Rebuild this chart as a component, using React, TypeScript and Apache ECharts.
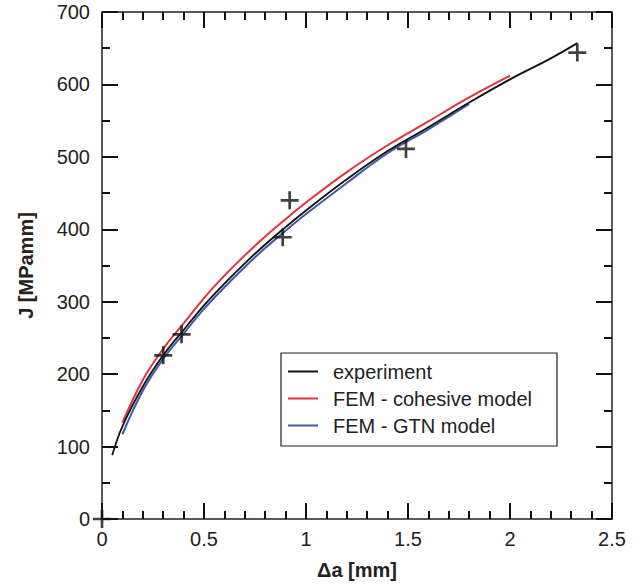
import React, { useEffect, useRef } from 'react';
import * as echarts from 'echarts';

const FONT = '"Liberation Sans", Arial, Helvetica, sans-serif';

// Δa [mm] / J [MPamm]
const experimentA = [0.05, 0.1, 0.2, 0.3, 0.4, 0.5, 0.6, 0.7, 0.8, 0.9, 1.0, 1.2, 1.4, 1.6, 1.8, 2.0, 2.2, 2.33];
const experimentJ = [88, 128, 183, 226, 261, 295, 325, 353, 379, 403, 426, 469, 508, 541, 575, 607, 636, 657];

const cohesiveA = [0.1, 0.2, 0.3, 0.4, 0.5, 0.6, 0.7, 0.8, 0.9, 1.0, 1.2, 1.4, 1.6, 1.8, 2.0];
const cohesiveJ = [133, 192, 235, 270, 305, 336, 364, 390, 414, 437, 479, 516, 549, 582, 612];

const gtnA = [0.1, 0.2, 0.3, 0.4, 0.5, 0.6, 0.7, 0.8, 0.9, 1.0, 1.2, 1.4, 1.6, 1.8];
const gtnJ = [117, 177, 221, 256, 290, 320, 348, 374, 398, 421, 464, 505, 538, 573];

const pointA = [0, 0.3, 0.39, 0.886, 0.92, 1.49, 2.33];
const pointJ = [0, 226, 255, 389, 440, 511, 644];

const seriesNames = ['experiment', 'FEM - cohesive model', 'FEM - GTN model'];

const zip = (xs: number[], ys: number[]) => xs.map((x, i) => [x, ys[i]]);

const CROSS =
  'path://M-1,-0.15 L-0.15,-0.15 L-0.15,-1 L0.15,-1 L0.15,-0.15 L1,-0.15 L1,0.15 L0.15,0.15 L0.15,1 L-0.15,1 L-0.15,0.15 L-1,0.15 Z';

const axisColor = '#222';
const tickLine = { color: '#111', width: 2 };

function makeX(position: 'bottom' | 'top', labels: boolean) {
  return {
    type: 'value',
    position,
    min: 0,
    max: 2.5,
    interval: 0.5,
    axisLine: { show: true, onZero: false, lineStyle: { color: axisColor, width: 1.5 } },
    axisTick: { show: true, inside: true, length: 16, lineStyle: tickLine },
    minorTick: { show: true, splitNumber: 5, length: 8, lineStyle: tickLine },
    splitLine: { show: false },
    minorSplitLine: { show: false },
    axisLabel: { show: labels, fontSize: 20, color: '#222', fontFamily: FONT, margin: 10 },
    name: labels ? 'Δa [mm]' : '',
    nameLocation: 'middle',
    nameGap: 41,
    nameTextStyle: { fontSize: 20, fontWeight: 'bold', color: '#222', fontFamily: FONT },
  };
}

function makeY(position: 'left' | 'right', labels: boolean) {
  return {
    type: 'value',
    position,
    min: 0,
    max: 700,
    interval: 100,
    axisLine: { show: true, onZero: false, lineStyle: { color: axisColor, width: 1.5 } },
    axisTick: { show: true, inside: true, length: 16, lineStyle: tickLine },
    minorTick: { show: true, splitNumber: 2, length: 8, lineStyle: tickLine },
    splitLine: { show: false },
    minorSplitLine: { show: false },
    axisLabel: { show: labels, fontSize: 20, color: '#222', fontFamily: FONT, margin: 12 },
    name: labels ? 'J [MPamm]' : '',
    nameLocation: 'middle',
    nameGap: 66,
    nameTextStyle: { fontSize: 20, fontWeight: 'bold', color: '#222', fontFamily: FONT },
  };
}

export default function App() {
  const ref = useRef<HTMLDivElement>(null);

  useEffect(() => {
    document.body.style.margin = '0';
    if (!ref.current) return;
    const chart = echarts.init(ref.current, null, { renderer: 'svg' });
    chart.setOption({
      animation: false,
      backgroundColor: '#fff',
      textStyle: { fontFamily: FONT },
      grid: { left: 102, right: 29, top: 12, bottom: 68, containLabel: false },
      xAxis: [makeX('bottom', true), makeX('top', false)],
      yAxis: [makeY('left', true), makeY('right', false)],
      legend: {
        data: seriesNames,
        orient: 'vertical',
        left: 281,
        top: 353,
        backgroundColor: '#fff',
        borderColor: '#222',
        borderWidth: 1.2,
        borderRadius: 0,
        padding: [8, 6, 10, 7],
        icon: 'rect',
        itemWidth: 30,
        itemHeight: 2,
        itemGap: 6,
        textStyle: {
          fontSize: 20,
          lineHeight: 21,
          color: '#222',
          fontFamily: FONT,
          width: 218,
          padding: [0, 0, 0, 10],
        },
      },
      series: [
        {
          name: seriesNames[1], type: 'line', data: zip(cohesiveA, cohesiveJ),
          symbol: 'none', smooth: 0.4,
          lineStyle: { color: '#e0323f', width: 2 }, itemStyle: { color: '#e0323f' }, z: 2,
        },
        {
          name: seriesNames[2], type: 'line', data: zip(gtnA, gtnJ),
          symbol: 'none', smooth: 0.4,
          lineStyle: { color: '#3d5aa8', width: 2 }, itemStyle: { color: '#3d5aa8' }, z: 2,
        },
        {
          name: seriesNames[0], type: 'line', data: zip(experimentA, experimentJ),
          symbol: 'none', smooth: 0.4,
          lineStyle: { color: '#111', width: 1.8 }, itemStyle: { color: '#111' }, z: 3,
        },
        {
          name: 'experiment points', type: 'scatter', data: zip(pointA, pointJ),
          symbol: CROSS, symbolSize: 18, itemStyle: { color: '#111' }, clip: false, z: 5,
        },
      ],
    });
    return () => chart.dispose();
  }, []);

  return <div ref={ref} style={{ width: 641, height: 587 }} />;
}
